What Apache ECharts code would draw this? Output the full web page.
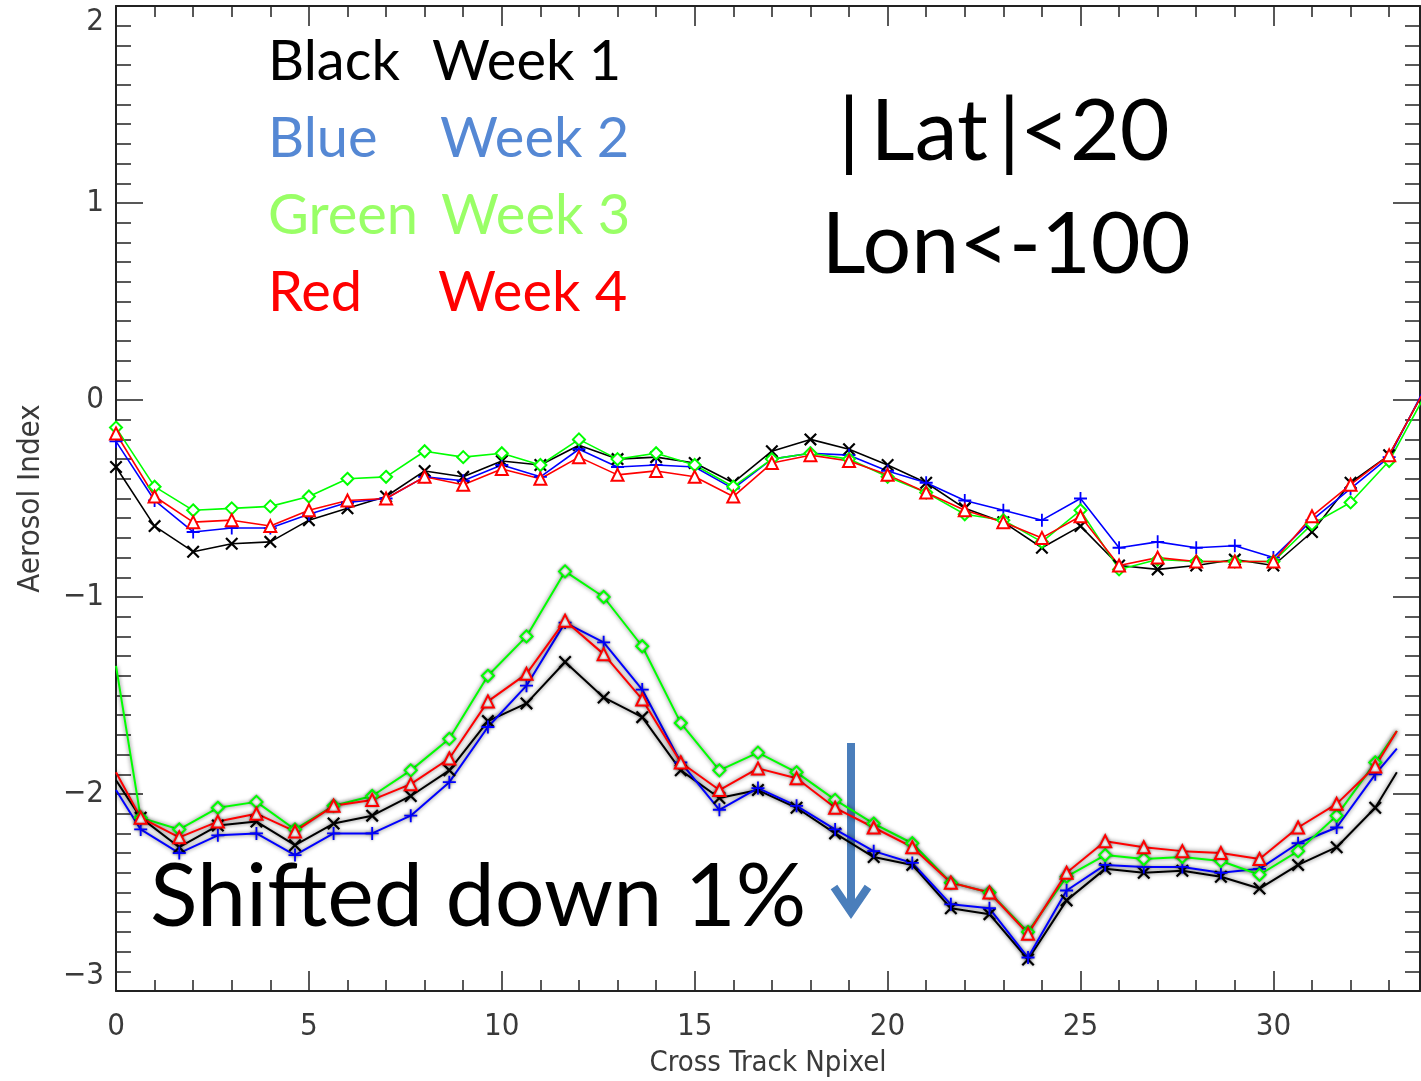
<!DOCTYPE html>
<html><head><meta charset="utf-8">
<script src="https://cdn.jsdelivr.net/npm/echarts@6/dist/echarts.min.js"></script>
<style>html,body{margin:0;padding:0;background:#fff}#c{width:1421px;height:1081px}</style>
</head><body><div id="c"></div>
<script>
// Upper group: measured at integer cross-track pixels 0..34
const xUpper = [0,1,2,3,4,5,6,7,8,9,10,11,12,13,14,15,16,17,18,19,20,21,22,23,24,25,26,27,28,29,30,31,32,33,34];
const blackUpper = [-0.34,-0.64,-0.77,-0.73,-0.72,-0.61,-0.55,-0.49,-0.36,-0.39,-0.31,-0.33,-0.23,-0.30,-0.29,-0.32,-0.42,-0.26,-0.20,-0.25,-0.33,-0.42,-0.55,-0.62,-0.75,-0.64,-0.84,-0.86,-0.84,-0.81,-0.84,-0.67,-0.42,-0.28,0.08];
const blueUpper  = [-0.21,-0.51,-0.67,-0.65,-0.65,-0.58,-0.52,-0.50,-0.39,-0.41,-0.33,-0.39,-0.25,-0.34,-0.33,-0.34,-0.45,-0.30,-0.27,-0.28,-0.36,-0.42,-0.51,-0.56,-0.61,-0.50,-0.75,-0.72,-0.75,-0.74,-0.80,-0.61,-0.45,-0.29,0.09];
const greenUpper = [-0.14,-0.44,-0.56,-0.55,-0.54,-0.49,-0.40,-0.39,-0.26,-0.29,-0.27,-0.33,-0.20,-0.30,-0.27,-0.33,-0.44,-0.30,-0.27,-0.30,-0.39,-0.47,-0.58,-0.61,-0.72,-0.56,-0.86,-0.81,-0.82,-0.82,-0.82,-0.63,-0.52,-0.31,0.05];
const redUpper   = [-0.17,-0.49,-0.62,-0.61,-0.64,-0.56,-0.51,-0.50,-0.39,-0.43,-0.35,-0.40,-0.29,-0.38,-0.36,-0.39,-0.49,-0.32,-0.28,-0.31,-0.38,-0.47,-0.56,-0.62,-0.70,-0.59,-0.84,-0.80,-0.82,-0.82,-0.82,-0.59,-0.43,-0.28,0.08];

// Lower group ("shifted down 1%"): first and last entries are line ends without markers
const xLower = [0,0.64,1.64,2.64,3.64,4.64,5.64,6.64,7.64,8.64,9.64,10.64,11.64,12.64,13.64,14.64,15.64,16.64,17.64,18.64,19.64,20.64,21.64,22.64,23.64,24.64,25.64,26.64,27.64,28.64,29.64,30.64,31.64,32.64,33.2];
const blackLower = [-1.93,-2.12,-2.27,-2.16,-2.14,-2.26,-2.15,-2.11,-2.01,-1.88,-1.63,-1.54,-1.33,-1.51,-1.61,-1.88,-2.02,-1.98,-2.07,-2.20,-2.32,-2.36,-2.58,-2.61,-2.84,-2.54,-2.38,-2.40,-2.39,-2.42,-2.48,-2.36,-2.27,-2.07,-1.89];
const blueLower  = [-1.98,-2.18,-2.30,-2.21,-2.20,-2.31,-2.20,-2.20,-2.11,-1.94,-1.66,-1.45,-1.13,-1.23,-1.47,-1.84,-2.08,-1.97,-2.06,-2.18,-2.29,-2.35,-2.56,-2.58,-2.83,-2.49,-2.36,-2.37,-2.37,-2.40,-2.38,-2.25,-2.17,-1.90,-1.77];
const greenLower = [-1.35,-2.12,-2.18,-2.07,-2.04,-2.18,-2.06,-2.01,-1.88,-1.72,-1.40,-1.20,-0.87,-1.00,-1.25,-1.64,-1.88,-1.79,-1.89,-2.03,-2.15,-2.25,-2.45,-2.50,-2.70,-2.42,-2.31,-2.33,-2.32,-2.34,-2.41,-2.29,-2.11,-1.84,-1.68];
const redLower   = [-1.89,-2.12,-2.22,-2.14,-2.10,-2.19,-2.06,-2.03,-1.95,-1.82,-1.53,-1.39,-1.12,-1.29,-1.52,-1.84,-1.98,-1.87,-1.92,-2.07,-2.17,-2.27,-2.45,-2.50,-2.71,-2.40,-2.24,-2.27,-2.29,-2.30,-2.33,-2.17,-2.05,-1.86,-1.68];

const xTicks = [0,5,10,15,20,25,30];
const yTicks = [-3,-2,-1,0,1,2];
const legendNames = ['Black','Blue','Green','Red'];
const legendWeeks = ['Week 1','Week 2','Week 3','Week 4'];

const COLORS = {black:'#000000', blue:'#0000ff', green:'#00ff00', red:'#ff0000'};
const SYM = {
  black: 'path://M0,1.2 L1.2,0 L10,8.8 L8.8,10 Z M8.8,0 L10,1.2 L1.2,10 L0,8.8 Z',
  blue: 'path://M4.3,0 H5.7 V10 H4.3 Z M0,4.3 H10 V5.7 H0 Z',
  green: 'emptyDiamond',
  red: 'emptyTriangle'
};

function pairs(xs, ys, endsPlain) {
  return xs.map((x,i) => {
    if (endsPlain && (i === 0 || i === xs.length-1)) return {value:[x, ys[i]], symbol:'none'};
    return [x, ys[i]];
  });
}
function mk(name, key, xs, ys, lower) {
  const c = COLORS[key];
  const s = {
    name, type:'line', data: pairs(xs, ys, lower), clip:true,
    symbol: SYM[key], symbolSize: (key==='green'||key==='red') ? 12 : 13,
    showAllSymbol:true, animation:false,
    lineStyle:{color:c, width: lower ? 2 : 1.6},
    itemStyle:{color:c, borderColor:c, borderWidth: (key==='green'||key==='red') ? 1.6 : 0},
    z: 3
  };
  if (lower) {
    s.lineStyle.shadowColor = 'rgba(0,0,0,0.6)'; s.lineStyle.shadowBlur = 4;
    s.itemStyle.shadowColor = 'rgba(0,0,0,0.5)'; s.itemStyle.shadowBlur = 3;
  }
  return s;
}

const chart = echarts.init(document.getElementById('c'), null, {renderer:'canvas'});
const axisFont = '"Liberation Sans Narrow","DejaVu Sans Condensed",sans-serif';
const tickLabel = {color:'#3a3a3a', fontSize:31, fontFamily:axisFont};
const fmtY = v => (yTicks.indexOf(v) >= 0 ? String(v).replace('-', '\u2212') : '');
const fmtX = v => (xTicks.indexOf(v) >= 0 ? String(v) : '');

const legendGraphics = [];
const legendColors = ['#000000','#5588d4','#99ff66','#ff0000'];
const weekX = [432,440,441,438];
legendNames.forEach((n,i) => {
  legendGraphics.push({type:'text', x:268, y:62+i*77, style:{text:n, fill:legendColors[i], font:'56px Lato, sans-serif', verticalAlign:'middle'}});
  legendGraphics.push({type:'text', x:weekX[i], y:62+i*77, style:{text:legendWeeks[i], fill:legendColors[i], font:'56px Lato, sans-serif', verticalAlign:'middle'}});
});

const frameLine = {show:true, onZero:false, lineStyle:{color:'#222', width:2}};

chart.setOption({
  backgroundColor:'#fff',
  animation:false,
  grid:{left:116, right:1, top:6, bottom:90, show:false, containLabel:false, outerBoundsMode:'none'},
  xAxis:[{
    type:'value', min:0, max:33.8, interval:5, position:'bottom',
    name:'Cross Track Npixel', nameLocation:'middle', nameGap:58,
    nameTextStyle:{color:'#3a3a3a', fontSize:29, fontFamily:axisFont},
    axisLine:frameLine,
    axisTick:{show:true, inside:true, length:20, lineStyle:{color:'#222', width:1.5}},
    minorTick:{show:true, splitNumber:5, length:11, lineStyle:{color:'#222', width:1.5}},
    axisLabel:{...tickLabel, margin:20, formatter:fmtX, showMaxLabel:false},
    splitLine:{show:false}
  },{
    type:'value', min:0, max:33.8, interval:5, position:'top',
    axisLine:frameLine,
    axisTick:{show:true, inside:true, length:20, lineStyle:{color:'#222', width:1.5}},
    minorTick:{show:true, splitNumber:5, length:11, lineStyle:{color:'#222', width:1.5}},
    axisLabel:{show:false}, splitLine:{show:false}
  }],
  yAxis:[{
    type:'value', min:-3, max:2, interval:1, position:'left',
    name:'Aerosol Index', nameLocation:'middle', nameGap:70, nameRotate:90,
    nameTextStyle:{color:'#3a3a3a', fontSize:31, fontFamily:axisFont},
    axisLine:frameLine,
    axisTick:{show:true, inside:true, length:27, lineStyle:{color:'#222', width:1.5}},
    minorTick:{show:true, splitNumber:10, length:15, lineStyle:{color:'#222', width:1.5}},
    axisLabel:{...tickLabel, margin:12, formatter:fmtY, verticalAlignMaxLabel:'top', verticalAlignMinLabel:'bottom'},
    splitLine:{show:false}
  },{
    type:'value', min:-3, max:2, interval:1, position:'right',
    axisLine:frameLine,
    axisTick:{show:true, inside:true, length:27, lineStyle:{color:'#222', width:1.5}},
    minorTick:{show:true, splitNumber:10, length:15, lineStyle:{color:'#222', width:1.5}},
    axisLabel:{show:false}, splitLine:{show:false}
  }],
  series:[
    mk('Week 1','black',xUpper,blackUpper,false),
    mk('Week 2','blue',xUpper,blueUpper,false),
    mk('Week 3','green',xUpper,greenUpper,false),
    mk('Week 4','red',xUpper,redUpper,false),
    mk('Week 1 shifted','black',xLower,blackLower,true),
    mk('Week 2 shifted','blue',xLower,blueLower,true),
    mk('Week 3 shifted','green',xLower,greenLower,true),
    mk('Week 4 shifted','red',xLower,redLower,true)
  ],
  graphic:[
    ...legendGraphics,
    {type:'text', x:1004, y:132, style:{text:'|\u2009Lat\u2009|<20', fill:'#000', font:'86px Lato, sans-serif', align:'center', verticalAlign:'middle'}},
    {type:'text', x:1006, y:245, style:{text:'Lon<-100', fill:'#000', font:'86px Lato, sans-serif', align:'center', verticalAlign:'middle'}},
    {type:'text', x:150, y:898, style:{text:'Shifted down 1%', fill:'#000', font:'88px Lato, sans-serif', verticalAlign:'middle'}},
    {type:'line', shape:{x1:851, y1:743, x2:851, y2:912}, style:{stroke:'#4a7ebb', lineWidth:8}},
    {type:'polyline', shape:{points:[[834,887],[851,912],[868,887]]}, style:{stroke:'#4a7ebb', lineWidth:8, fill:null, lineJoin:'miter'}}
  ]
});
</script></body></html>
